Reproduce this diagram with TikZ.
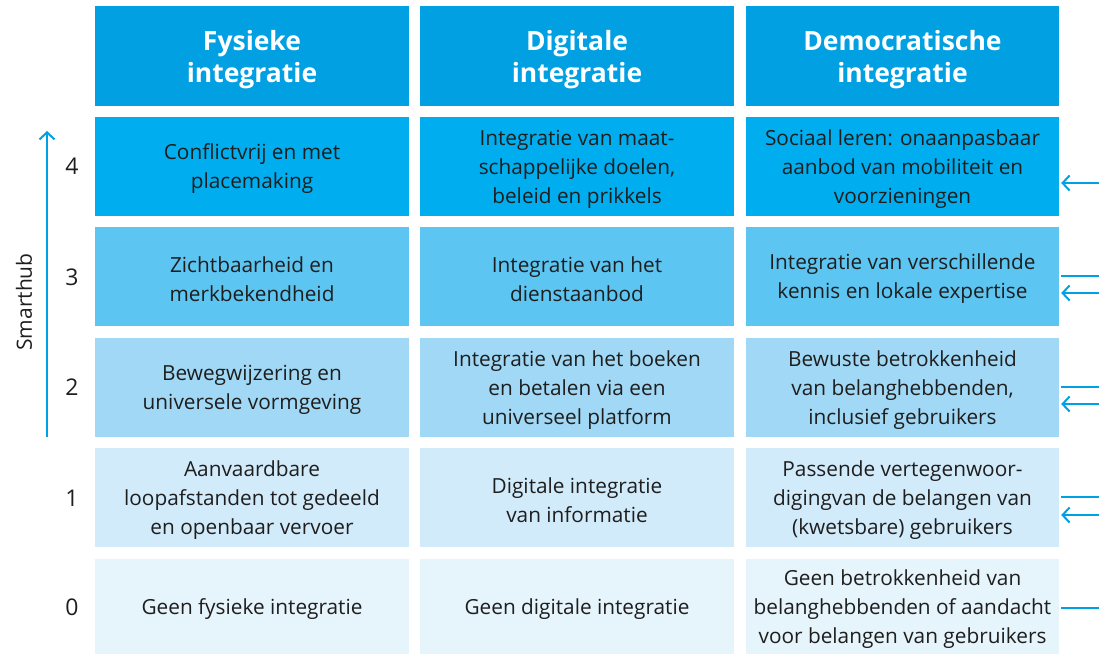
\documentclass[tikz,border=0pt]{standalone}
\usepackage{fontspec}
\setmainfont{Open Sans}
\usetikzlibrary{arrows.meta}
\definecolor{hdr}{RGB}{0,160,227}
\definecolor{lv4}{RGB}{0,174,239}
\definecolor{lv3}{RGB}{92,197,242}
\definecolor{lv2}{RGB}{160,216,245}
\definecolor{lv1}{RGB}{210,235,250}
\definecolor{lv0}{RGB}{230,244,252}
\definecolor{arrc}{RGB}{0,160,227}
\definecolor{txt}{RGB}{30,30,30}
\tikzset{
  box/.style={rectangle, inner sep=0pt, minimum width=314pt, minimum height=99pt},
  txtn/.style={inner sep=0pt, align=center, text=txt, font=\fontsize{20.8}{29}\selectfont},
  htxt/.style={inner sep=0pt, align=center, text=white, font=\fontsize{26.5}{32}\selectfont\bfseries},
  lvl/.style={text=txt, font=\fontsize{23}{28}\selectfont},
  arr/.style={draw=arrc, line width=2pt, -{Straight Barb[length=7pt,width=15pt,line width=2pt]}},
  tick/.style={draw=arrc, line width=2pt}
}
% #1 name, #2 x, #3 y, #4 box options, #5 text style, #6 text
\newcommand{\mkcell}[6]{%
  \node[box,#4] (#1) at (#2,#3) {};
  \node[#5] (#1t) at ([yshift=-2.5pt]#1.center) {#6};}
\begin{document}
\begin{tikzpicture}[x=1pt,y=-1pt]
\useasboundingbox (0,0) rectangle (1099,654);
% headers
\mkcell{h1}{252}{56}{fill=hdr, minimum height=100pt}{htxt, yshift=-1.5pt}{Fysieke\\integratie}
\mkcell{h2}{577}{56}{fill=hdr, minimum height=100pt}{htxt, yshift=-1.5pt}{Digitale\\integratie}
\mkcell{h3}{902.5}{56}{fill=hdr, minimum height=100pt, minimum width=313pt}{htxt, yshift=-1.5pt}{Democratische\\integratie}
% row 4
\mkcell{c1r4}{252}{166.5}{fill=lv4}{txtn}{Conflictvrij en met\\placemaking}
\mkcell{c2r4}{577}{166.5}{fill=lv4}{txtn}{Integratie van maat-\\schappelijke doelen,\\beleid en prikkels}
\mkcell{c3r4}{902.5}{166.5}{fill=lv4, minimum width=313pt}{txtn}{Sociaal leren: onaanpasbaar\\aanbod van mobiliteit en\\voorzieningen}
% row 3
\mkcell{c1r3}{252}{276.5}{fill=lv3}{txtn}{Zichtbaarheid en\\merkbekendheid}
\mkcell{c2r3}{577}{276.5}{fill=lv3}{txtn}{Integratie van het\\dienstaanbod}
\mkcell{c3r3}{902.5}{276.5}{fill=lv3, minimum width=313pt}{txtn}{Integratie van verschillende\\kennis en lokale expertise}
% row 2
\mkcell{c1r2}{252}{387.5}{fill=lv2}{txtn}{Bewegwijzering en\\universele vormgeving}
\mkcell{c2r2}{577}{387.5}{fill=lv2}{txtn}{Integratie van het boeken\\en betalen via een\\universeel platform}
\mkcell{c3r2}{902.5}{387.5}{fill=lv2, minimum width=313pt}{txtn}{Bewuste betrokkenheid\\van belanghebbenden,\\inclusief gebruikers}
% row 1
\mkcell{c1r1}{252}{497.5}{fill=lv1}{txtn}{Aanvaardbare\\loopafstanden tot gedeeld\\en openbaar vervoer}
\mkcell{c2r1}{577}{497.5}{fill=lv1}{txtn}{Digitale integratie\\van informatie}
\mkcell{c3r1}{902.5}{497.5}{fill=lv1, minimum width=313pt}{txtn}{Passende vertegenwoor-\\digingvan de belangen van\\(kwetsbare) gebruikers}
% row 0
\mkcell{c1r0}{252}{606.5}{fill=lv0, minimum height=95pt}{txtn}{Geen fysieke integratie}
\mkcell{c2r0}{577}{606.5}{fill=lv0, minimum height=95pt}{txtn}{Geen digitale integratie}
\mkcell{c3r0}{902.5}{606.5}{fill=lv0, minimum height=95pt, minimum width=313pt}{txtn}{Geen betrokkenheid van\\belanghebbenden of aandacht\\voor belangen van gebruikers}
% level numbers
\node[lvl] (n4) at (72,166) {4};
\node[lvl] (n3) at (72,277) {3};
\node[lvl] (n2) at (72,387) {2};
\node[lvl] (n1) at (72,498) {1};
\node[lvl] (n0) at (72,607) {0};
% smarthub axis
\coordinate (axb) at (47,437);
\coordinate (axt) at (47,131);
\draw[arr] (axb) -- (axt);
\node[rotate=90, text=txt, font=\fontsize{21}{26}\selectfont] (sh) at (24,302) {Smarthub};
% right side markers
\coordinate (e4a) at (1099,183);
\coordinate (e3l) at (1099,276);
\coordinate (e3a) at (1099,293);
\coordinate (e2l) at (1099,387);
\coordinate (e2a) at (1099,404);
\coordinate (e1l) at (1099,497);
\coordinate (e1a) at (1099,515);
\coordinate (e0l) at (1099,608);
\draw[arr] (e4a) -- ([xshift=2pt]c3r4.east |- e4a);
\draw[tick] (e3l) -- ([xshift=2pt]c3r3.east |- e3l);
\draw[arr] (e3a) -- ([xshift=2pt]c3r3.east |- e3a);
\draw[tick] (e2l) -- ([xshift=2pt]c3r2.east |- e2l);
\draw[arr] (e2a) -- ([xshift=2pt]c3r2.east |- e2a);
\draw[tick] (e1l) -- ([xshift=2pt]c3r1.east |- e1l);
\draw[arr] (e1a) -- ([xshift=2pt]c3r1.east |- e1a);
\draw[tick] (e0l) -- ([xshift=2pt]c3r0.east |- e0l);
\end{tikzpicture}
\end{document}
